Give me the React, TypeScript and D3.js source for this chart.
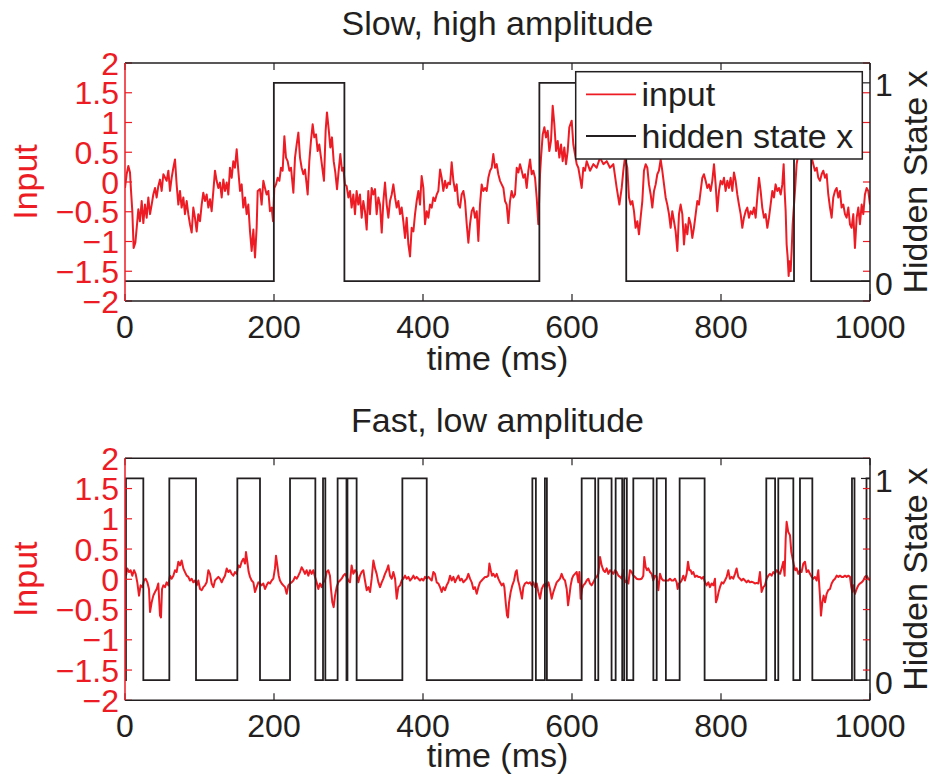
import React from 'react';
import * as d3 from 'd3';

// ---------- data ----------
const timeTicks = [0, 200, 400, 600, 800, 1000];
const inputTicks = [-2, -1.5, -1, -0.5, 0, 0.5, 1, 1.5, 2];
const inputTickLabels = ['\u22122', '\u22121.5', '\u22121', '\u22120.5', '0', '0.5', '1', '1.5', '2'];
const stateTicks = [0, 1];
const stateTickLabels = ['0', '1'];
const panelTitles = ['Slow, high amplitude', 'Fast, low amplitude'];
const legendLabels = ['input', 'hidden state x'];

// Slow, high amplitude: input trace
const topTime = [
  0, 2.2, 4.5, 6.7, 8.1, 9.8, 11.6, 13.9, 15.7, 17.9, 20.1, 22.4, 24.6, 26.8, 29.1, 31.3, 33.6, 35.8, 38, 40.3,
  42.5, 44.7, 47, 49.2, 51.5, 55.9, 58.2, 60.4, 62.6, 64.9, 67.1, 69.3, 71.6, 73.8, 76, 78.3, 80.5, 82.8, 85, 87.2,
  89.5, 91.7, 93.9, 96.2, 98.4, 100.7, 102.9, 105.1, 107.4, 109.6, 111.9, 114.1, 116.3, 118.6, 120.8, 123, 125.3, 127.5, 129.8, 132,
  134.2, 136.5, 138.7, 140.9, 143.2, 145.4, 147.6, 149.9, 152.1, 154.4, 156.6, 158.8, 161.1, 163.3, 165.5, 167.8, 170, 172.3, 174.5, 176.7,
  178.1, 181.2, 183.4, 185.7, 187.9, 190.1, 192.4, 194.6, 196.9, 198.7, 200.4, 202.7, 204.9, 207.2, 209.4, 211.6, 213.9, 216.1, 218.3, 220.6,
  222.8, 226, 228.2, 230.4, 232.7, 234.9, 237.1, 239.4, 241.6, 243.8, 245.2, 247.4, 249.6, 251.9, 254.1, 256.4, 258.6, 260.8, 263.1, 265.3,
  267.1, 269.3, 271.1, 273.4, 275.6, 277.8, 280.1, 282.3, 284.6, 286.8, 289, 291.3, 293, 295.3, 297.5, 299.8, 302, 304.2, 306.5, 308.7,
  310.9, 313.2, 315.4, 317.7, 319.9, 322.1, 324.4, 326.6, 328.8, 331.1, 333.3, 335.6, 337.8, 340.1, 342.3, 344.6, 346.8, 349, 351.3, 353.5,
  355.7, 358, 360.2, 362.5, 364.7, 366.9, 369.2, 371.4, 373.6, 375.9, 378.1, 380.4, 382.6, 384.8, 387.1, 389.3, 391.5, 393.8, 396, 398.2,
  400.5, 402.7, 405, 407.2, 409.4, 411.7, 413.9, 416.1, 418.4, 420.6, 422.9, 425.1, 427.3, 429.6, 431.8, 434, 436.3, 438.5, 440.8, 443,
  445.2, 447.5, 449.7, 451.9, 454.2, 456.4, 458.7, 460.9, 463.1, 465.4, 467.6, 469.8, 472.1, 474.3, 476.5, 478.8, 481, 483.3, 485.5, 487.7,
  490, 492.2, 494.4, 496.7, 498.9, 501.1, 503.4, 505.6, 507.9, 510.1, 512.3, 514.6, 516.8, 519, 521.3, 523.5, 525.8, 528, 530.2, 532.5,
  534.7, 536.9, 539.2, 541.4, 543.7, 545.9, 548.1, 550.4, 552.6, 554.8, 557.1, 558.4, 560.7, 562.9, 565.1, 567.4, 569.6, 571.8, 574.1, 576.3,
  578.6, 580.8, 583, 585.3, 587.5, 589.7, 592, 594.2, 596.4, 599.6, 601.8, 604, 606.3, 608.5, 610.8, 613, 615.2, 617.5, 619.7, 624.2,
  628.7, 633.1, 637.6, 642.1, 646.6, 651, 655.5, 660, 663.6, 666.7, 668.9, 671.1, 674.2, 676.5, 678.7, 681, 683.2, 685.4, 687.7, 689.9,
  692.1, 694.4, 696.6, 698.9, 701.1, 703.3, 705.6, 707.8, 710.1, 712.3, 714.5, 716.7, 719, 721.2, 723.5, 725.7, 727.9, 730.2, 732.4, 734.6,
  736.9, 739.1, 741.4, 743.6, 745.8, 748.1, 750.3, 752.5, 754.8, 757, 759.3, 761.5, 763.7, 766, 768.2, 770.4, 772.7, 774.9, 777.1, 779.4,
  781.6, 783.9, 786.1, 788.3, 790.6, 792.8, 795, 797.3, 799.5, 801.8, 804, 806.2, 808.5, 810.7, 812.9, 815.2, 817.4, 819.6, 821.9, 824.1,
  826.4, 828.6, 830.8, 833.1, 835.3, 837.5, 839.8, 842, 844.3, 846.5, 848.7, 851, 853.2, 855.4, 857.7, 859.9, 862.2, 864.4, 866.6, 868.9,
  871.1, 873.3, 875.6, 877.8, 880.1, 882.3, 884.1, 885.4, 886.8, 888.1, 889.5, 890.8, 892.1, 893.5, 894.8, 896.2, 897.1, 899.3, 901.5, 903.8,
  906, 908.2, 912.7, 917.2, 919.4, 921.7, 923.9, 926.1, 928.4, 930.6, 932.9, 935.1, 937.3, 939.6, 941.8, 944, 946.3, 948.5, 950.7, 953,
  955.2, 957.5, 959.7, 961.9, 964.2, 966.4, 968.6, 970.9, 973.1, 975.3, 977.6, 979.8, 982.1, 984.3, 986.5, 988.8, 991, 993.2, 995.5, 997.7,
  1000,
];
const topInput = [
  -0.1, 0.13, 0.27, 0.16, -0.15, -0.49, -1.11, -1.02, -0.77, -0.46, -0.66, -0.32, -0.69, -0.38, -0.6, -0.26, -0.54, -0.38, -0.21, -0.1,
  -0.26, -0.07, 0.04, -0.15, 0.13, 0.02, 0.19, -0.15, 0.07, 0.24, 0.38, -0.04, -0.38, -0.15, -0.43, -0.26, -0.54, -0.32, -0.54, -0.71,
  -0.85, -0.43, -0.6, -0.83, -0.54, -0.66, -0.38, -0.18, -0.32, -0.21, -0.43, -0.29, -0.49, -0.15, 0.19, 0.02, -0.1, -0.01, -0.26, 0.04,
  -0.15, -0.01, -0.21, 0.24, 0.07, 0.35, 0.24, 0.55, 0.19, -0.15, -0.04, -0.43, -0.26, -0.54, -0.38, -0.83, -1.16, -0.8, -1.27, -0.77,
  -0.15, -0.12, -0.38, 0.02, -0.1, -0.21, -0.15, -0.49, -0.43, -0.66, -0.1, -0.04, 0.07, 0.02, 0.24, 0.19, 0.77, 0.41, 0.35, 0.19,
  0.24, -0.18, 0.41, 0.63, 0.83, 0.41, 0.24, 0.13, 0.21, -0.04, -0.21, 0.35, 0.69, 0.97, 0.75, 0.8, 0.52, 0.63, 0.41, 0.19,
  0.02, 0.86, 1.17, 0.89, 0.58, 0.75, 0.35, 0.16, -0.12, 0.19, 0.47, 0.19, 0.24, -0.04, -0.07, -0.26, -0.15, -0.43, -0.21, -0.54,
  -0.15, -0.38, -0.21, -0.6, -0.32, -0.49, -0.8, -0.15, -0.54, -0.1, -0.21, -0.12, -0.54, -0.26, -0.38, -0.85, -0.32, -0.01, -0.38, -0.6,
  -0.32, -0.21, -0.04, -0.26, -0.43, -0.32, -0.54, -0.43, -0.66, -0.94, -0.6, -1.05, -1.25, -0.77, -0.83, -0.54, -0.32, -0.15, -0.38, 0.1,
  -0.1, -0.71, -0.49, -0.6, -0.38, -0.43, -0.26, -0.32, -0.21, -0.15, 0.21, 0.07, -0.15, 0.02, -0.1, -0.01, -0.04, 0.33, 0.02, -0.15,
  -0.04, -0.38, -0.43, -0.21, -0.15, -0.32, -0.71, -1.02, -0.71, -0.49, -0.43, -0.6, -0.49, -0.99, -0.38, -0.04, -0.15, -0.1, -0.15, 0.07,
  0.19, 0.24, 0.47, 0.24, 0.3, 0.13, 0.02, -0.04, -0.1, -0.32, -0.38, -0.69, -0.32, -0.15, -0.26, -0.21, 0.24, 0.16, 0.3, 0.19,
  0.07, 0.13, -0.1, 0.19, 0.38, 0.13, 0.19, 0.07, -0.26, -0.71, 0.13, 0.41, 0.8, 0.92, 0.75, 0.86, 0.52, 0.69, 1.28, 0.97,
  0.52, 0.69, 0.41, 0.63, 0.35, 0.58, 0.3, 0.52, 0.92, 1.03, 0.63, 0.47, 0.3, 0.24, 0.07, -0.1, 0.24, 0.19, 0.35, 0.19,
  0.3, 0.24, 0.41, 0.3, 0.35, 0.24, 0.3, -0.1, -0.38, -0.1, 0.19, 0.41, 0.24, -0.26, -0.38, -0.32, -0.49, -0.77, -0.66, -0.88,
  -0.6, -0.32, 0.19, 0.3, 0.24, -0.04, -0.21, -0.43, -0.15, -0.04, 0.13, 0.19, 0.38, 0.19, -0.04, -0.26, -0.38, -0.54, -0.77, -0.49,
  -0.66, -0.83, -1.16, -0.54, -0.38, -0.54, -1.05, -0.71, -0.88, -0.6, -0.71, -0.94, -0.77, -0.54, -0.32, -0.38, -0.15, 0.07, 0.13, 0.02,
  -0.1, -0.04, -0.15, 0.02, 0.3, -0.04, -0.49, -0.15, 0.02, -0.04, 0.07, -0.15, 0.02, -0.1, 0.07, -0.15, 0.16, 0.02, -0.21, -0.38,
  -0.54, -0.77, -0.6, -0.49, -0.43, -0.6, -0.49, -0.54, -0.43, -0.6, -0.26, 0.07, -0.15, -0.43, -0.6, -0.54, -0.77, -0.6, -0.38, -0.15,
  -0.26, -0.04, -0.15, -0.1, -0.21, -0.04, 0.3, -0.15, -0.49, -1.05, -1.27, -1.58, -1.33, -1.5, -1.16, -0.71, -0.54, -0.15, 0.3, 0.47,
  0.41, 0.52, 0.47, 0.41, 0.52, 0.41, 0.3, 0.19, 0.24, 0.07, 0.02, 0.13, 0.19, 0.07, 0.13, -0.21, -0.43, -0.6, -0.26, -0.15,
  -0.1, -0.26, -0.15, -0.43, -0.38, -0.54, -0.6, -0.43, -0.71, -0.77, -0.54, -1.11, -0.6, -0.43, -0.71, -0.38, -0.54, -0.21, -0.1, -0.15,
  -0.38,
];
// hidden state: starts at 0, switches at these times
const topStateStart = 0;
const topSwitches = [199.8, 294.5, 556.2, 672.8, 898, 921];

// Fast, low amplitude: input trace
const botTime = [
  1.3, 3.1, 5.4, 7.6, 9.8, 12.1, 14.3, 16.5, 18.8, 21, 23.3, 25.5, 27.7, 30, 32.2, 33.6, 35.8, 38, 40.3, 42.5,
  44.7, 47, 48.3, 49.7, 51.5, 53.7, 55.9, 58.2, 60.4, 62.6, 64.9, 67.1, 69.3, 71.6, 73.8, 76, 78.3, 80.5, 82.8, 85,
  87.2, 89.5, 91.7, 93.9, 96.2, 98.4, 100.7, 102.9, 105.1, 107.4, 109.6, 111.9, 114.1, 116.3, 118.6, 120.8, 123, 125.3, 127.5, 129.8,
  132, 134.2, 136.5, 138.7, 140.9, 143.2, 145.4, 147.6, 149.9, 152.1, 154.4, 156.6, 158.8, 161.1, 162.4, 164.2, 166, 167.8, 170, 172.3,
  174.5, 176.7, 179, 181.2, 183.4, 185.7, 187.9, 190.1, 192.4, 194.6, 196.9, 199.1, 201.3, 202.7, 204.5, 206.3, 208, 210.3, 212.5, 214.8,
  217, 219.2, 221.5, 223.7, 226, 228.2, 230.4, 232.7, 234.9, 237.1, 239.4, 241.6, 243.8, 246.1, 248.3, 250.5, 252.8, 255, 257.2, 259.5,
  261.7, 264, 266.2, 268.4, 270.7, 272.9, 275.1, 276.5, 278.3, 280.1, 281.9, 284.1, 286.3, 288.6, 290.8, 293, 295.3, 297.5, 299.8, 302,
  304.2, 306.5, 308.7, 310.9, 313.2, 315.4, 317.6, 319.9, 322.1, 324.4, 326.6, 328.9, 331.1, 333.4, 335.6, 337.8, 340.1, 342.3, 344.6, 346.8,
  349, 351.3, 353.5, 355.7, 358, 360.2, 362.5, 364.7, 366.9, 369.2, 371.4, 373.6, 375.9, 378.1, 380.4, 382.6, 384.8, 387.1, 389.3, 391.5,
  393.8, 396, 398.2, 400.5, 402.7, 405, 407.2, 409.4, 411.7, 413.9, 416.1, 418.4, 420.6, 422.9, 425.1, 427.3, 429.6, 431.8, 434, 436.3,
  438.5, 440.8, 443, 445.2, 447.5, 449.7, 451.9, 454.2, 456.4, 458.7, 460.9, 463.1, 465.4, 467.6, 469.8, 472.1, 474.3, 476.5, 478.8, 481,
  483.3, 485.5, 487.7, 489.1, 490.9, 492.7, 494.4, 496.7, 498.9, 501.1, 503.4, 505.6, 507.9, 509.2, 511, 512.8, 514.1, 515.5, 517.7, 519.9,
  522.2, 524.4, 525.8, 527.6, 529.3, 531.1, 532.9, 534.7, 536.9, 539.2, 541.4, 543.7, 545.9, 548.1, 550.4, 552.6, 554.8, 557.1, 559.3, 561.6,
  563.8, 566, 568.3, 570.5, 572.7, 575, 577.2, 579.4, 581.7, 583.9, 586.1, 588.4, 590.6, 592.9, 594.7, 596.5, 598.2, 600, 601.8, 604,
  606.3, 608.5, 609.9, 611.6, 613.4, 615.2, 617.5, 619.7, 621.9, 624.2, 626.4, 628.7, 630.9, 633.1, 635.4, 637.6, 639.8, 642.1, 644.3, 646.5,
  648.8, 651, 653.3, 655.5, 657.7, 660, 662.2, 664.5, 666.6, 668.9, 671.1, 673.3, 675.6, 677.8, 680.1, 682.3, 684.5, 686.8, 689, 691.2,
  693.5, 695.7, 697, 698.9, 700.6, 702.4, 704.7, 706.9, 709.1, 711.4, 713.6, 715.9, 718.1, 720.3, 722.6, 724.8, 727, 729.3, 731.5, 733.7,
  736, 738.2, 740.5, 741.8, 743.6, 745.4, 747.2, 749.4, 751.6, 753.9, 755.7, 757.5, 759.3, 761, 762.8, 765.1, 767.3, 769.5, 771.8, 774,
  776.3, 778.5, 780.7, 783, 785.2, 787.4, 789.7, 791.9, 793.2, 795, 796.8, 798.6, 800.9, 803.1, 805.3, 807.6, 809.8, 812, 814.3, 816.5,
  818.8, 821, 823.2, 825.5, 827.7, 829.9, 832.2, 834.4, 836.6, 838.9, 841.1, 843.4, 845.6, 847.8, 850.1, 852.3, 854.5, 856.8, 859, 861.3,
  863.5, 865.7, 868, 870.2, 872.4, 874.7, 876.9, 879.2, 881.4, 883.6, 885.4, 886.8, 888.1, 890.3, 892.6, 894.4, 896.2, 897.9, 899.7, 901.5,
  903.8, 906, 908.2, 910.5, 912.7, 914.9, 917.2, 919.4, 921.7, 923.9, 926.1, 928.4, 930.6, 932.8, 934.2, 936, 937.8, 939.6, 941.8, 944,
  946.3, 948.5, 950.7, 953, 955.2, 957.5, 959.7, 961.9, 964.2, 966.4, 968.6, 970.9, 973.1, 974.9, 976.2, 977.6, 979.8, 982.1, 984.3, 986.5,
  988.8, 991, 993.2, 995.5, 997.7, 1000,
];
const botInput = [
  0.06, 0.18, 0.12, 0.15, 0.06, 0.15, 0.09, -0.05, -0.27, -0.1, -0.13, -0.02, 0.01, -0.05, -0.16, -0.54, -0.38, -0.27, -0.21, -0.16,
  -0.07, -0.6, -0.63, -0.16, -0.1, -0.13, -0.05, -0.1, 0.06, 0.01, 0.06, 0.15, 0.12, 0.29, 0.23, 0.31, 0.18, 0.12, 0.06, 0.04,
  -0.02, 0.01, -0.05, -0.02, -0.1, -0.02, -0.16, -0.18, -0.13, -0.1, -0.05, 0.15, 0.09, -0.07, -0.13, -0.02, 0.01, 0.04, 0.01, -0.05,
  0.01, 0.06, 0.18, 0.12, 0.15, 0.09, 0.06, 0.12, 0.09, 0.23, 0.2, 0.29, 0.34, 0.26, 0.45, 0.29, 0.12, 0.04, -0.02, -0.05,
  -0.21, -0.13, -0.05, -0.07, -0.1, -0.07, -0.16, -0.1, -0.05, -0.07, -0.02, 0.01, 0.18, 0.39, 0.23, 0.06, -0.02, -0.07, -0.1, -0.13,
  -0.24, -0.1, -0.07, -0.05, -0.02, 0.04, 0.01, 0.06, 0.12, 0.2, 0.15, 0.09, 0.15, 0.06, 0.15, 0.09, 0.15, 0.04, -0.05, -0.16,
  -0.07, -0.13, -0.05, -0.02, 0.12, 0.15, 0.06, -0.16, -0.38, -0.46, -0.27, -0.13, -0.05, -0.02, 0.01, 0.06, 0.09, 0.04, -0.02, -0.05,
  0.23, 0.09, 0.15, 0.12, -0.05, 0.06, 0.12, 0.15, -0.02, -0.18, -0.13, -0.21, 0.01, 0.31, 0.18, 0.09, -0.05, -0.13, -0.05, 0.01,
  0.09, 0.15, 0.23, 0.06, 0.01, 0.12, 0.01, -0.32, -0.13, -0.1, -0.02, 0.01, 0.06, 0.01, 0.04, -0.02, 0.01, 0.06, 0.01, 0.04,
  0.01, -0.02, 0.01, -0.02, 0.04, 0.01, 0.04, 0.01, -0.02, 0.12, 0.09, -0.05, -0.07, -0.13, -0.21, -0.13, -0.18, -0.1, -0.05, 0.06,
  -0.02, 0.04, -0.05, 0.01, 0.06, -0.02, 0.01, -0.05, -0.02, 0.01, 0.09, 0.01, -0.05, -0.16, -0.13, -0.24, -0.13, -0.05, -0.02, 0.01,
  0.04, 0.04, 0.06, 0.26, 0.15, 0.06, 0.09, 0.04, 0.09, 0.01, -0.05, -0.1, -0.07, -0.13, -0.38, -0.6, -0.63, -0.38, -0.21, -0.1,
  -0.02, 0.12, 0.15, -0.02, -0.1, -0.21, -0.32, -0.13, -0.07, -0.05, -0.07, -0.05, -0.1, -0.05, -0.13, -0.07, -0.21, -0.32, -0.16, -0.1,
  -0.07, -0.13, -0.05, -0.16, -0.32, -0.21, -0.13, -0.05, -0.02, 0.01, 0.09, 0.01, -0.02, -0.16, -0.43, -0.27, -0.1, 0.01, 0.06, 0.09,
  0.12, -0.05, 0.12, -0.32, -0.16, -0.1, -0.07, -0.02, 0.01, -0.07, -0.1, -0.05, 0.01, 0.04, 0.09, 0.37, 0.23, 0.15, 0.12, 0.18,
  0.09, 0.15, 0.12, 0.09, 0.15, 0.12, 0.06, 0.04, 0.01, 0.15, -0.05, -0.02, -0.07, 0.15, 0.12, 0.06, 0.04, 0.01, 0, 0,
  0.01, 0.06, 0.37, 0.2, 0.15, 0.18, 0.12, 0.09, -0.02, 0.06, 0.04, -0.18, 0.09, 0.01, -0.02, -0.02, -0.02, -0.02, 0.01, -0.02,
  -0.02, 0.01, -0.05, -0.16, -0.07, -0.05, -0.02, 0.06, -0.02, 0.09, 0.29, 0.15, 0.15, 0.09, 0.12, 0.04, 0.06, 0.04, 0.04, 0.01,
  0.04, -0.05, -0.1, -0.05, -0.13, -0.07, -0.1, 0.01, -0.38, -0.32, -0.21, -0.13, -0.05, -0.07, -0.02, 0.04, 0.15, 0.01, 0.04, 0.01,
  0.09, 0.18, 0.04, 0.01, -0.02, 0.01, -0.02, -0.05, -0.02, -0.05, -0.04, -0.05, -0.07, -0.06, -0.07, 0.12, -0.21, -0.13, -0.1, 0.01,
  0.06, 0.09, 0.06, 0.12, 0.09, 0.15, 0.12, 0.09, 0.18, 0.29, 0.06, 0.67, 0.95, 0.78, 0.73, 0.45, 0.34, 0.23, 0.15, 0.18,
  0.09, 0.15, 0.12, 0.26, 0.29, 0.12, 0.15, 0.09, 0.04, 0.01, 0.04, -0.02, 0.15, -0.27, -0.6, -0.38, -0.27, -0.38, -0.24, -0.18,
  -0.16, -0.07, -0.02, 0.01, 0.06, 0.04, 0.06, 0.04, 0.04, 0.06, 0.04, 0.06, 0.04, -0.13, -0.21, -0.1, -0.24, -0.16, -0.1, -0.07,
  -0.05, -0.02, 0.04, 0.06, 0.01, -0.02,
];
const botStateStart = 0;
const botSwitches = [
  1.3, 24.6, 59.5, 95.3, 150.8, 181.2, 221.5, 255.5, 265.8, 268.9, 285.4, 297.3, 298.6, 310.9, 372.3, 405,
  546.8, 551.5, 563.6, 566.3, 613, 631.1, 635.3, 653.1, 658.6, 667.4, 670.1, 673.6, 682.3, 709.2, 713.7, 726,
  744.5, 778, 860.8, 872.6, 876.9, 897.1, 906, 922.6, 975.8, 979.2, 995.3,
];

// ---------- styling ----------
const RED = '#ed1c24';
const INK = '#231f20';
const FONT = "'Liberation Sans', Arial, Helvetica, sans-serif";

type PanelSpec = {
  title: string;
  top: number;
  bottom: number;
  titleY: number;
  tickY: number;
  labelY: number;
  time: number[];
  input: number[];
  stateStart: number;
  switches: number[];
  legend: boolean;
};

const X0 = 125;
const X1 = 870;

function stepPoints(start: number, switches: number[]): [number, number][] {
  const pts: [number, number][] = [[0, start]];
  let s = start;
  for (const t of switches) {
    s = 1 - s;
    pts.push([t, s]);
  }
  pts.push([1000, s]);
  return pts;
}

function Panel({ p, idx }: { p: PanelSpec; idx: number }) {
  const x = d3.scaleLinear().domain([0, 1000]).range([X0, X1]);
  const yIn = d3.scaleLinear().domain([-2, 2]).range([p.bottom, p.top]);
  const yHs = d3.scaleLinear().domain([-0.1, 1.1]).range([p.bottom, p.top]);
  const inputLine = d3
    .line<number>()
    .x((_, i) => x(p.time[i]))
    .y((v) => yIn(v));
  const stateLine = d3
    .line<[number, number]>()
    .x((d) => x(d[0]))
    .y((d) => yHs(d[1]))
    .curve(d3.curveStepAfter);
  const clipId = `clip${idx}`;
  const midY = (p.top + p.bottom) / 2;
  const TL = 7;
  return (
    <g>
      <defs>
        <clipPath id={clipId}>
          <rect x={X0} y={p.top} width={X1 - X0} height={p.bottom - p.top} />
        </clipPath>
      </defs>
      <text x={(X0 + X1) / 2} y={p.titleY} textAnchor="middle" fontSize={34} fill={INK}>
        {p.title}
      </text>
      <rect x={X0} y={p.top} width={X1 - X0} height={p.bottom - p.top} fill="#fff" />
      <g clipPath={`url(#${clipId})`}>
        <path d={inputLine(p.input) || ''} fill="none" stroke={RED} strokeWidth={2} strokeLinejoin="round" />
        <path d={stateLine(stepPoints(p.stateStart, p.switches)) || ''} fill="none" stroke={INK} strokeWidth={1.8} />
      </g>
      {/* x ticks (bottom & top) */}
      {timeTicks.map((t) => (
        <g key={`xt${t}`}>
          <line x1={x(t)} x2={x(t)} y1={p.bottom} y2={p.bottom - TL} stroke={INK} strokeWidth={1.2} />
          <line x1={x(t)} x2={x(t)} y1={p.top} y2={p.top + TL} stroke={INK} strokeWidth={1.2} />
          <text x={x(t)} y={p.tickY} textAnchor="middle" fontSize={32} fill={INK}>
            {t}
          </text>
        </g>
      ))}
      {/* left (input) ticks, mirrored on the right */}
      {inputTicks.map((v, i) => (
        <g key={`yt${v}`}>
          <line x1={X0} x2={X0 + TL} y1={yIn(v)} y2={yIn(v)} stroke={RED} strokeWidth={1.2} />
          <line x1={X1} x2={X1 - TL} y1={yIn(v)} y2={yIn(v)} stroke={RED} strokeWidth={1.2} />
          <text x={119} y={yIn(v)} dy="0.36em" textAnchor="end" fontSize={32} fill={RED}>
            {inputTickLabels[i]}
          </text>
        </g>
      ))}
      {/* right (hidden state) ticks */}
      {stateTicks.map((v, i) => (
        <g key={`st${v}`}>
          <line x1={X1} x2={X1 - 9} y1={yHs(v)} y2={yHs(v)} stroke={INK} strokeWidth={1.2} />
          <text x={875} y={yHs(v)} dy="0.42em" textAnchor="start" fontSize={32} fill={INK}>
            {stateTickLabels[i]}
          </text>
        </g>
      ))}
      {/* frame */}
      <line x1={X0} x2={X1} y1={p.top} y2={p.top} stroke={INK} strokeWidth={1.5} />
      <line x1={X0} x2={X1} y1={p.bottom} y2={p.bottom} stroke={INK} strokeWidth={1.5} />
      <line x1={X1} x2={X1} y1={p.top} y2={p.bottom} stroke={INK} strokeWidth={1.5} />
      <line x1={X0} x2={X0} y1={p.top} y2={p.bottom} stroke={RED} strokeWidth={1.5} />
      {/* axis labels */}
      <text x={(X0 + X1) / 2} y={p.labelY} textAnchor="middle" fontSize={34} fill={INK}>
        time (ms)
      </text>
      <text transform={`translate(37,${midY}) rotate(-90)`} textAnchor="middle" fontSize={34} fill={RED}>
        Input
      </text>
      <text transform={`translate(926.5,${midY}) rotate(-90)`} textAnchor="middle" fontSize={34} fill={INK}>
        Hidden State x
      </text>
      {p.legend && (
        <g>
          <rect x={575.7} y={71.7} width={286.6} height={87.3} fill="#fff" stroke={INK} strokeWidth={1.5} />
          <line x1={586} x2={636} y1={94.3} y2={94.3} stroke={RED} strokeWidth={1.8} />
          <text x={641.5} y={94.3 + 12} fontSize={34} fill={INK}>
            {legendLabels[0]}
          </text>
          <line x1={586} x2={636} y1={136} y2={136} stroke={INK} strokeWidth={1.8} />
          <text x={641.5} y={136 + 12} fontSize={34} fill={INK}>
            {legendLabels[1]}
          </text>
        </g>
      )}
    </g>
  );
}

export default function App() {
  const panels: PanelSpec[] = [
    {
      title: panelTitles[0],
      top: 63,
      bottom: 301,
      titleY: 34.5,
      tickY: 338,
      labelY: 370,
      time: topTime,
      input: topInput,
      stateStart: topStateStart,
      switches: topSwitches,
      legend: true,
    },
    {
      title: panelTitles[1],
      top: 458.3,
      bottom: 700.3,
      titleY: 431.5,
      tickY: 737,
      labelY: 767,
      time: botTime,
      input: botInput,
      stateStart: botStateStart,
      switches: botSwitches,
      legend: false,
    },
  ];
  return (
    <svg
      width={932}
      height={778}
      viewBox="0 0 932 778"
      style={{ position: 'absolute', left: 0, top: 0, background: '#fff' }}
      fontFamily={FONT}
    >
      <rect x={0} y={0} width={932} height={778} fill="#fff" />
      {panels.map((p, i) => (
        <Panel key={i} p={p} idx={i} />
      ))}
    </svg>
  );
}
